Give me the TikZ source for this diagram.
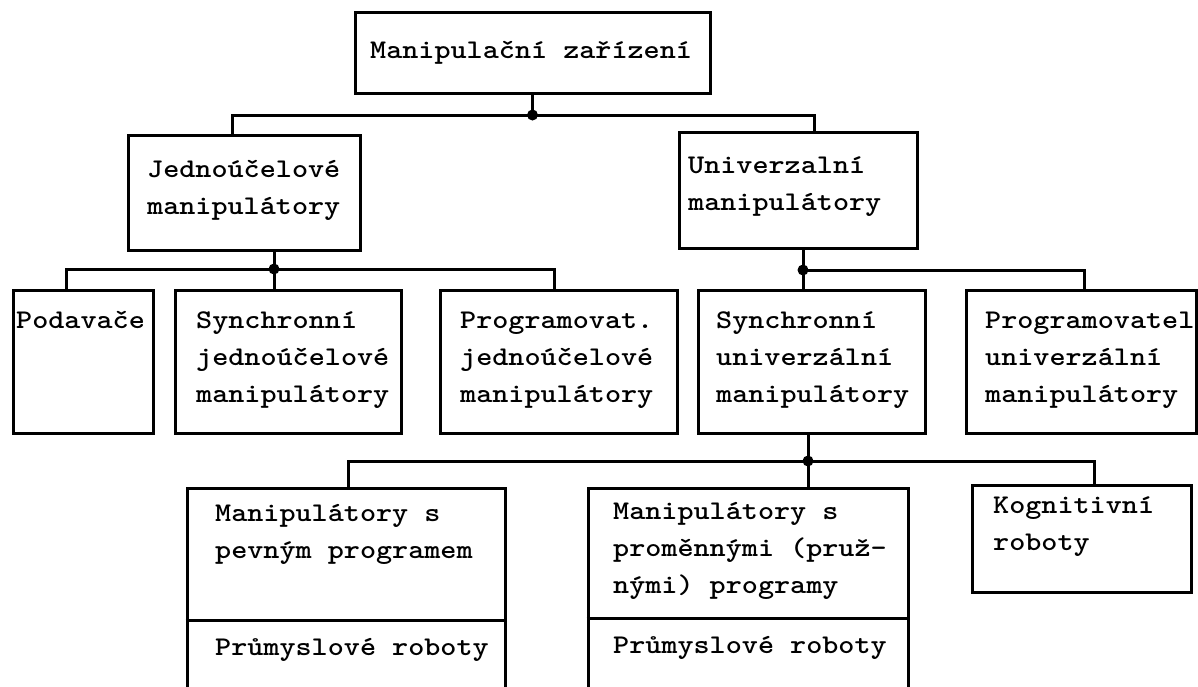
\documentclass[tikz,border=0pt]{standalone}
\usepackage{fontspec}
\usepackage{graphicx}
\newcommand\tlines[1]{\scalebox{1.135}[1]{\begin{tabular}[t]{@{}l@{}}#1\end{tabular}}}
\newcommand\twfont{\ttfamily\bfseries\fontsize{27}{37}\selectfont}
\begin{document}
\begin{tikzpicture}[x=1pt,y=-1pt,
  box/.style={draw,line width=3pt,rectangle,inner sep=0pt},
  lbl/.style={anchor=base west,inner sep=0pt,font=\twfont},
  conn/.style={line width=3pt},
  dotc/.style={circle,fill=black,inner sep=0pt,minimum size=11pt}]
\useasboundingbox (0,0) rectangle (1198,686);
\clip (0,0) rectangle (1198,686);
% level 1
\node[box,minimum width=355pt,minimum height=81pt] (top) at (532.5,52.5) {};
% level 2
\node[box,minimum width=232pt,minimum height=115pt] (jedn) at (244,192.5) {};
\node[box,minimum width=238pt,minimum height=116pt] (univ) at (798,190) {};
% level 3
\node[box,minimum width=140pt,minimum height=143pt] (podav) at (83,361.5) {};
\node[box,minimum width=226pt,minimum height=143pt] (synj) at (288,361.5) {};
\node[box,minimum width=237pt,minimum height=143pt] (progj) at (558.5,361.5) {};
\node[box,minimum width=227pt,minimum height=143pt] (synu) at (811.5,361.5) {};
\node[box,minimum width=230pt,minimum height=143pt] (progu) at (1081,361.5) {};
% level 4
\node[box,minimum width=318pt,minimum height=220pt] (pevny) at (346,598) {};
\node[box,minimum width=320pt,minimum height=220pt] (promen) at (748,598) {};
\node[box,minimum width=219pt,minimum height=107pt] (kogn) at (1081.5,538.5) {};
% dividers
\draw[conn] ([yshift=-134pt]pevny.north west) -- ([yshift=-134pt]pevny.north east);
\draw[conn] ([yshift=-132pt]promen.north west) -- ([yshift=-132pt]promen.north east);
% junctions
\coordinate (j1) at (532.5,115);
\coordinate (j2) at (274,269);
\coordinate (j3) at (803,270);
\coordinate (j4) at (808,461);
% connectors level 1-2
\draw[conn] (top.south) -- (j1);
\draw[conn] ([xshift=-12pt]jedn.north) |- (j1) -| ([xshift=16pt]univ.north);
% jedn -> level 3
\draw[conn] ([xshift=30pt]jedn.south) -- (j2);
\draw[conn] ([xshift=-17pt]podav.north) |- (j2) -| ([xshift=-4pt]progj.north);
\draw[conn] (j2) -- ([xshift=-14pt]synj.north);
% univ -> level 3
\draw[conn] ([xshift=5pt]univ.south) -- (j3);
\draw[conn] ([xshift=-8.5pt]synu.north) |- (j3) -| ([xshift=3pt]progu.north);
% synu -> level 4
\draw[conn] ([xshift=-3.5pt]synu.south) -- (j4);
\draw[conn] ([xshift=2pt]pevny.north) |- (j4) -| ([xshift=12.5pt]kogn.north);
\draw[conn] (j4) -- ([xshift=60pt]promen.north);
% dots
\node[dotc] (d1) at (j1) {};
\node[dotc] (d2) at (j2) {};
\node[dotc] (d3) at (j3) {};
\node[dotc] (d4) at (j4) {};
% labels
\node[lbl] (t0) at (370,58) {\tlines{Manipulační zařízení}};
\node[lbl] (t1) at (147,177) {\tlines{Jednoúčelové\\manipulátory}};
\node[lbl] (t2) at (688,173) {\tlines{Univerzalní\\manipulátory}};
\node[lbl] (t3) at (16,328) {\tlines{Podavače}};
\node[lbl] (t4) at (196,328) {\tlines{Synchronní\\jednoúčelové\\manipulátory}};
\node[lbl] (t5) at (460,328) {\tlines{Programovat.\\jednoúčelové\\manipulátory}};
\node[lbl] (t6) at (716,328) {\tlines{Synchronní\\univerzální\\manipulátory}};
\node[lbl] (t7) at (985,328) {\tlines{Programovatel\\univerzální\\manipulátory}};
\node[lbl] (t8) at (215,521) {\tlines{Manipulátory s\\pevným programem}};
\node[lbl] (t9) at (613,519) {\tlines{Manipulátory s\\proměnnými (pruž-\\nými) programy}};
\node[lbl] (t10) at (993,513) {\tlines{Kognitivní\\roboty}};
\node[lbl] (t11) at (215,655) {\tlines{Průmyslové roboty}};
\node[lbl] (t12) at (613,653) {\tlines{Průmyslové roboty}};
\end{tikzpicture}
\end{document}
